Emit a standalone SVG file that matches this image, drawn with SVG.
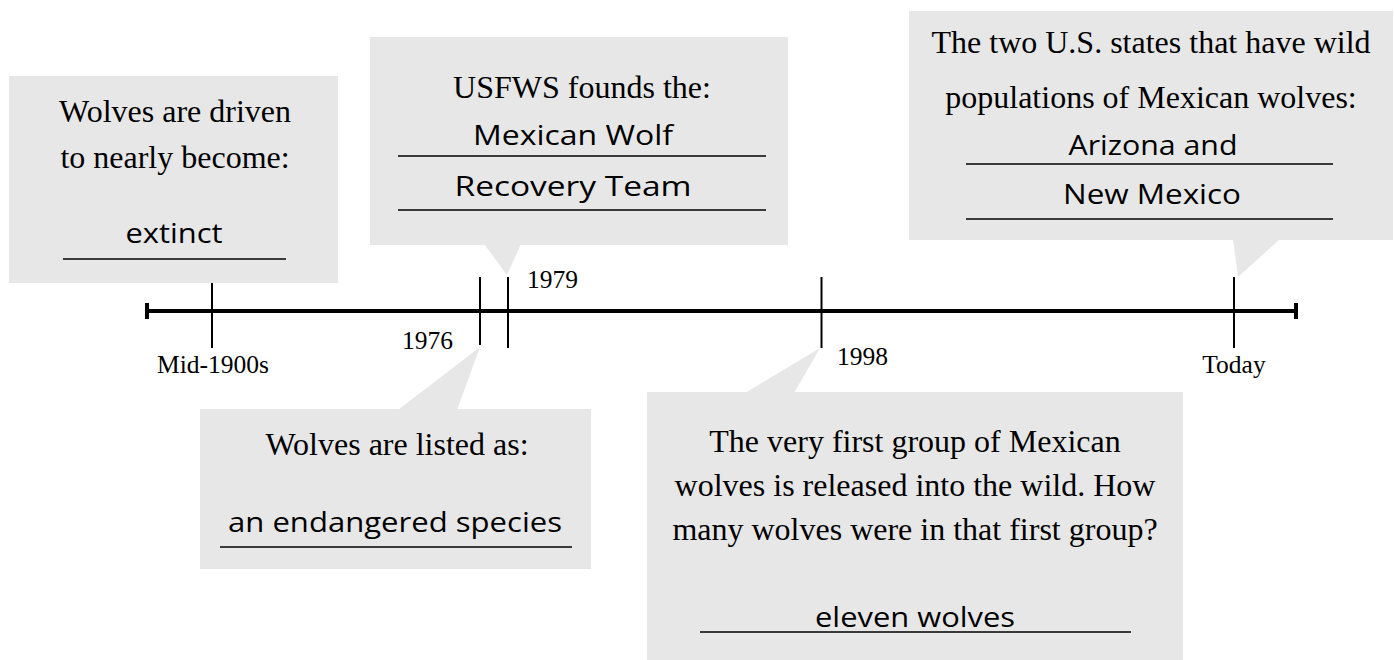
<svg xmlns="http://www.w3.org/2000/svg" width="1394" height="660" viewBox="0 0 1394 660">
<style>
.box{fill:#e7e7e7;stroke:none}
.t{font-family:"Liberation Serif","Times New Roman",serif;font-size:32px;fill:#000;text-anchor:middle}
.lbl{font-family:"Liberation Serif","Times New Roman",serif;font-size:25.5px;fill:#000}
.h{font-family:"Open Sans","DejaVu Sans",sans-serif;font-weight:400;font-size:28px;fill:#000;text-anchor:middle}
.ul{stroke:#000;stroke-width:1.5;fill:none}
.tick{stroke:#000;stroke-width:2;fill:none}
.axis{stroke:#000;stroke-width:4;fill:none}
</style>
<rect width="1394" height="660" fill="#fff"/>

<g id="node-mid1900s">
  <rect class="box" x="9" y="76" width="329" height="207"/>
  <text class="t" x="175" y="122">Wolves are driven</text>
  <text class="t" x="175" y="168">to nearly become:</text>
  <text class="h" x="174" y="243" textLength="97" lengthAdjust="spacingAndGlyphs">extinct</text>
  <line class="ul" x1="63" y1="259" x2="286" y2="259"/>
</g>

<g id="node-1979">
  <rect class="box" x="370" y="37" width="418" height="208"/>
  <polygon class="box" points="484,244 521,244 507,275"/>
  <text class="t" x="582" y="98">USFWS founds the:</text>
  <text class="h" x="573" y="145" textLength="200" lengthAdjust="spacingAndGlyphs">Mexican Wolf</text>
  <line class="ul" x1="398" y1="156" x2="766" y2="156"/>
  <text class="h" x="573" y="196" textLength="237" lengthAdjust="spacingAndGlyphs">Recovery Team</text>
  <line class="ul" x1="398" y1="210" x2="766" y2="210"/>
</g>

<g id="node-today">
  <rect class="box" x="909" y="11" width="484" height="229"/>
  <polygon class="box" points="1233,239 1280,239 1238,277"/>
  <text class="t" x="1151" y="53">The two U.S. states that have wild</text>
  <text class="t" x="1151" y="108">populations of Mexican wolves:</text>
  <text class="h" x="1153" y="155" textLength="169" lengthAdjust="spacingAndGlyphs">Arizona and</text>
  <line class="ul" x1="966" y1="164" x2="1333" y2="164"/>
  <text class="h" x="1152" y="204" textLength="178" lengthAdjust="spacingAndGlyphs">New Mexico</text>
  <line class="ul" x1="966" y1="219" x2="1333" y2="219"/>
</g>

<g id="node-1976">
  <rect class="box" x="200" y="409" width="391" height="160"/>
  <polygon class="box" points="398,410 457,410 480,347"/>
  <text class="t" x="397" y="455">Wolves are listed as:</text>
  <text class="h" x="395" y="532" textLength="334" lengthAdjust="spacingAndGlyphs">an endangered species</text>
  <line class="ul" x1="220" y1="547" x2="572" y2="547"/>
</g>

<g id="node-1998">
  <rect class="box" x="647" y="392" width="536" height="270"/>
  <polygon class="box" points="745,393 794,393 820,348"/>
  <text class="t" x="915" y="452">The very first group of Mexican</text>
  <text class="t" x="915" y="496">wolves is released into the wild. How</text>
  <text class="t" x="915" y="540">many wolves were in that first group?</text>
  <text class="h" x="915" y="627" textLength="200" lengthAdjust="spacingAndGlyphs">eleven wolves</text>
  <line class="ul" x1="700" y1="632" x2="1131" y2="632"/>
</g>

<g id="connectors">
  <line class="axis" x1="147" y1="311" x2="1296" y2="311"/>
  <line class="axis" x1="147" y1="303" x2="147" y2="319"/>
  <line class="axis" x1="1296" y1="303" x2="1296" y2="319"/>
  <line class="tick" x1="212" y1="283" x2="212" y2="348"/>
  <line class="tick" x1="480" y1="277" x2="480" y2="345"/>
  <line class="tick" x1="508" y1="277" x2="508" y2="348"/>
  <line class="tick" x1="821.5" y1="277" x2="821.5" y2="348"/>
  <line class="tick" x1="1234" y1="277" x2="1234" y2="348"/>
</g>

<g id="labels">
  <text class="lbl" x="213" y="373" text-anchor="middle">Mid-1900s</text>
  <text class="lbl" x="453" y="349" text-anchor="end">1976</text>
  <text class="lbl" x="527" y="288">1979</text>
  <text class="lbl" x="837" y="365">1998</text>
  <text class="lbl" x="1234" y="373" text-anchor="middle">Today</text>
</g>
</svg>
